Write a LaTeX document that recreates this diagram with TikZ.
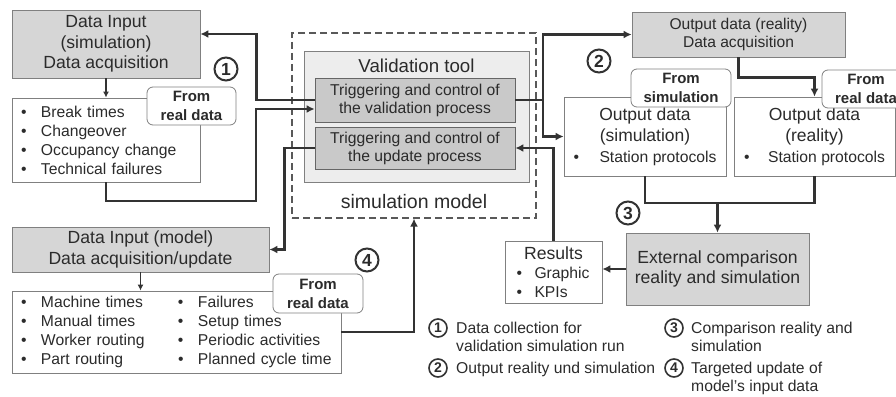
\documentclass[tikz,border=0pt]{standalone}
\usepackage{fontspec}
\setmainfont{Liberation Sans}
\usetikzlibrary{arrows.meta}

\definecolor{lin}{HTML}{333333}
\definecolor{txt}{HTML}{2B2B2B}
\definecolor{frame}{HTML}{808080}
\definecolor{headfill}{HTML}{D6D6D6}
\definecolor{toolfill}{HTML}{EDEDED}
\definecolor{trigfill}{HTML}{C9C9C9}

\newcommand\headfont{\fontsize{17.6}{20.5}\selectfont}
\newcommand\bodyfont{\fontsize{15.7}{19}\selectfont}
\newcommand\tagfont{\fontsize{15}{19}\selectfont\bfseries}
\newcommand\itm[1][20pt]{\makebox[#1][l]{\textbullet}}

\begin{document}
\begin{tikzpicture}[x=1pt, y=-1pt,
    every node/.style={text=txt},
    box/.style={draw=frame, line width=0.8pt, fill=white, inner sep=0pt},
    head/.style={box, fill=headfill, align=center, font=\headfont},
    list/.style={box, align=left, font=\bodyfont, inner xsep=9pt},
    trig/.style={box, fill=trigfill, draw=black!60, align=center,
        font=\fontsize{15.7}{18}\selectfont, minimum width=200pt},
    tag/.style={draw=frame, line width=0.8pt, fill=white, rounded corners=6pt,
        align=center, font=\tagfont, inner sep=0pt},
    num/.style={circle, draw=lin, line width=2pt, inner sep=0pt,
        minimum size=23pt, font=\fontsize{17.5}{17.5}\selectfont\bfseries},
    legnum/.style={circle, draw=lin, line width=1.6pt, inner sep=0pt,
        minimum size=18pt, font=\fontsize{14}{14}\selectfont\bfseries},
    legtext/.style={anchor=north west, inner sep=0pt, align=left,
        font=\fontsize{15.7}{18}\selectfont},
    flow/.style={draw=lin, line width=2.4pt, -{Latex[length=8pt,width=8pt]}},
    thinflow/.style={draw=lin, line width=1.6pt, -{Latex[length=6pt,width=6pt]}},
    line/.style={draw=lin, line width=2.4pt}
]
    \useasboundingbox (0,0) rectangle (896,396);
    \clip (0,0) rectangle (896,396);

    % Simulation model with validation tool
    \node[draw=black!65, line width=1.2pt, dash pattern=on 7pt off 4pt,
        minimum width=244pt, minimum height=185pt, inner sep=0pt] (simModel) at (414,125.5) {};
    \node[font=\fontsize{19.5}{22}\selectfont] (simLbl) at (414,202) {simulation model};
    \node[box, fill=toolfill, minimum width=225pt, minimum height=131pt] (valTool) at (416.5,116.5) {};
    \node[font=\fontsize{18.7}{22}\selectfont] (valLbl) at (416.5,66) {Validation tool};
    \node[trig, minimum height=44pt] (trigVal) at (415,100)
        {Triggering and control of\\the validation process};
    \node[trig, minimum height=42pt] (trigUpd) at (415,148)
        {Triggering and control of\\the update process};

    % Data input for the simulation run
    \node[head, minimum width=188pt, minimum height=68pt] (dInSim) at (106,44)
        {Data Input\\(simulation)\\Data acquisition};
    \node[list, text width=170pt, minimum height=84pt] (listSim) at (106,140)
        {\itm Break times\\\itm Changeover\\\itm Occupancy change\\\itm Technical failures};
    \node[tag, minimum width=89pt, minimum height=38pt] (tagSim) at (191.5,106) {From\\real data};
    \node[num] (c1) at (226,69) {1};

    % Output data
    \node[head, font=\fontsize{15.6}{18}\selectfont, minimum width=213pt, minimum height=45pt]
        (outReal) at (738.5,34.5) {Output data (reality)\\Data acquisition};
    \node[num] (c2) at (599,61) {2};
    \node[box, align=center, font=\fontsize{17.5}{21}\selectfont, minimum width=162pt,
        minimum height=79pt] (outSim) at (645,136.5)
        {Output data\\(simulation)\\\bodyfont\itm[26pt]Station protocols};
    \node[box, align=center, font=\fontsize{17.5}{21}\selectfont, minimum width=161pt,
        minimum height=79pt] (outRealBox) at (814.5,136.5)
        {Output data\\(reality)\\\bodyfont\itm[24pt]Station protocols};
    \node[tag, minimum width=100pt, minimum height=38pt] (tagOutSim) at (681,88) {From\\simulation};
    \node[tag, minimum width=88pt, minimum height=38pt] (tagOutReal) at (866,89) {From\\real data};

    % Comparison and results
    \node[num] (c3) at (628,213) {3};
    \node[head, minimum width=183pt, minimum height=72pt] (extCmp) at (717.5,269)
        {External comparison\\reality and simulation};
    \node[box, align=center, font=\bodyfont, minimum width=97pt, minimum height=62pt]
        (results) at (553.5,272)
        {\headfont Results\\\bodyfont\makebox[74pt][l]{\itm[18pt]Graphic}\\
         \bodyfont\makebox[74pt][l]{\itm[18pt]KPIs}};

    % Data input for the model update
    \node[head, minimum width=257pt, minimum height=45pt] (dInMod) at (140.5,249.5)
        {Data Input (model)\\Data acquisition/update};
    \node[list, text width=311pt, minimum height=82pt] (listMod) at (176.5,332)
        {\makebox[157pt][l]{\itm Machine times}\itm Failures\\
         \makebox[157pt][l]{\itm Manual times}\itm Setup times\\
         \makebox[157pt][l]{\itm Worker routing}\itm Periodic activities\\
         \makebox[157pt][l]{\itm Part routing}\itm Planned cycle time};
    \node[tag, minimum width=90pt, minimum height=39pt] (tagMod) at (318,293.5) {From\\real data};
    \node[num] (c4) at (367,260) {4};

    % Connectors
    \coordinate (split) at (543,100);
    \coordinate (join) at (717.5,203);
    \draw[flow] (trigVal.west) -- ++(-58,0) |- ([yshift=10pt]dInSim.east);
    \draw[flow] (listSim.south) |- (256,201) |- ([yshift=-9pt]trigVal.west);
    \draw[flow] (trigVal.east) -- (split) |- (outReal.west);
    \draw[flow] (split) |- (outSim.west);
    \draw[flow] (outReal.south) -- ++(0,20) -| (outRealBox.north);
    \draw[line] (outSim.south) |- (outRealBox.south |- join) -- (outRealBox.south);
    \draw[flow] (join) -- (extCmp.north);
    \draw[flow] (extCmp.west) -- (results.east |- extCmp.west);
    \draw[flow] (results.north) |- (trigUpd.east);
    \draw[flow] (trigUpd.west) -- ++(-30,0) |- (dInMod.east);
    \draw[flow] (listMod.east) -| (simModel.south);
    \draw[thinflow] (dInSim.south) -- (listSim.north);
    \draw[thinflow] (dInMod.south) -- (dInMod.south |- listMod.north);

    % Legend
    \node[legnum] (l1) at (438,328) {1};
    \node[legtext] (t1) at (456,321.5) {Data collection for\\validation simulation run};
    \node[legnum] (l2) at (438,368) {2};
    \node[legtext] (t2) at (456,361.5) {Output reality und simulation};
    \node[legnum] (l3) at (674,328) {3};
    \node[legtext] (t3) at (691,321.5) {Comparison reality and\\simulation};
    \node[legnum] (l4) at (674,368) {4};
    \node[legtext] (t4) at (691,361.5) {Targeted update of\\model’s input data};
\end{tikzpicture}
\end{document}
